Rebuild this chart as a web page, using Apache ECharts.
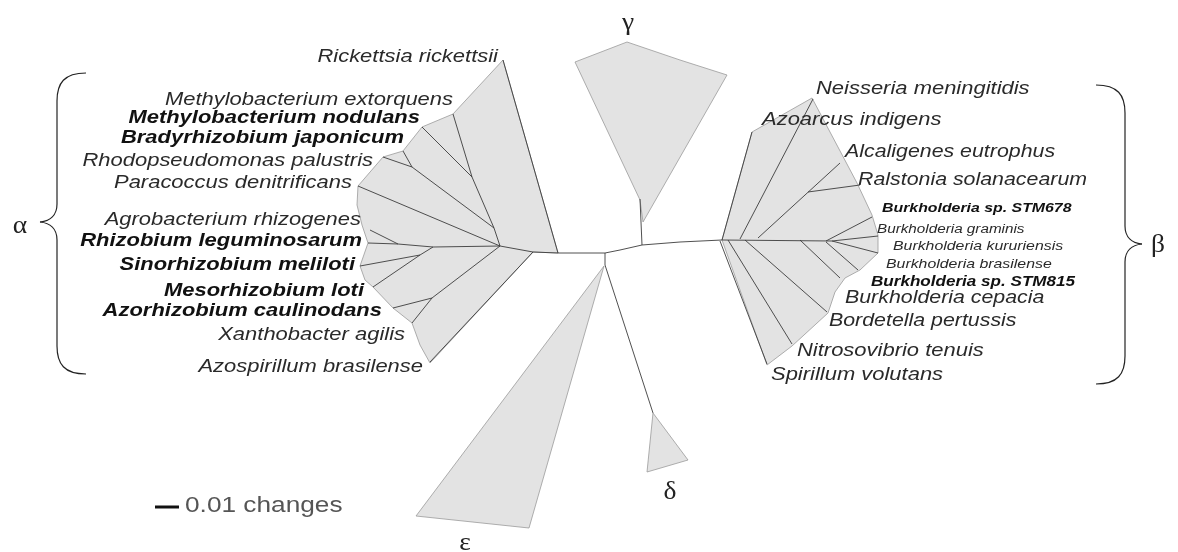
<!DOCTYPE html>
<html><head><meta charset="utf-8">
<script src="https://cdn.jsdelivr.net/npm/echarts@6.0.0/dist/echarts.min.js"></script>
<style>html,body{margin:0;padding:0;background:#fff}#c{width:1178px;height:552px}</style>
</head><body><div id="c"></div>
<script>
// ---------- DATA (figure units = pixels of the original 1178x552 figure) ----------
const leftLabels = ['Rickettsia rickettsii','Methylobacterium extorquens','Methylobacterium nodulans','Bradyrhizobium japonicum','Rhodopseudomonas palustris','Paracoccus denitrificans','Agrobacterium rhizogenes','Rhizobium leguminosarum','Sinorhizobium meliloti','Mesorhizobium loti','Azorhizobium caulinodans','Xanthobacter agilis','Azospirillum brasilense'];
const leftBold = [0,0,1,1,0,0,0,1,1,1,1,0,0];
const leftX = [498,453,420,404,373,352,361,362,355,364,382,405,423];
const leftY = [57,100,118,138,161,183,220,241,265,291,311,335,367];

const rightLabels = ['Neisseria meningitidis','Azoarcus indigens','Alcaligenes eutrophus','Ralstonia solanacearum','Burkholderia sp. STM678','Burkholderia graminis','Burkholderia kururiensis','Burkholderia brasilense','Burkholderia sp. STM815','Burkholderia cepacia','Bordetella pertussis','Nitrosovibrio tenuis','Spirillum volutans'];
const rightBold = [0,0,0,0,1,0,0,0,1,0,0,0,0];
const rightSize = [18,18,17.5,17.5,13,12.5,13,13,14,17.5,17.5,18,18];
const rightX = [816,762,845,858,882,877,893,886,871,845,829,797,771];
const rightY = [89,120,152,180,208,230,246,264,282,298,321,351,375];

const groupLetters = ['α','β','γ','δ','ε'];
const groupX = [20,1158,628,670,465];
const groupY = [226,245,23,492,543];

// backbone + branches (polylines of tree nodes)
const branches = [
  [[533,252],[558,253],[605,253],[620,250],[642,245],[680,242],[722,240]],
  [[558,253],[503,60]],
  [[533,252],[430,362]],
  [[533,252],[500,246]],
  [[500,246],[494,228],[472,177],[453,114]],
  [[472,177],[422,127]],
  [[494,228],[412,167]],
  [[412,167],[403,151]],
  [[412,167],[383,157]],
  [[500,246],[358,186]],
  [[500,246],[433,247],[398,244],[368,243]],
  [[398,244],[370,230]],
  [[433,247],[420,255]],
  [[420,255],[360,266]],
  [[420,255],[373,287]],
  [[500,246],[432,298]],
  [[432,298],[393,308]],
  [[432,298],[412,323]],
  [[642,245],[640,199]],
  [[605,253],[605,265],[653,413]],
  [[722,240],[752,132]],
  [[740,239],[813,99]],
  [[758,238],[840,163]],
  [[808,192],[860,185]],
  [[722,240],[832,241]],
  [[826,241],[872,217]],
  [[832,241],[878,236]],
  [[832,241],[878,253]],
  [[826,242],[858,270]],
  [[800,240],[840,278]],
  [[745,240],[827,312]],
  [[728,240],[792,344]],
  [[720,241],[767,364]]
];

const cladeNames = ['alpha','beta','gamma','epsilon','delta'];
const cladeShapes = [
  [[503,60],[453,114],[422,127],[403,151],[383,157],[358,186],[357,205],[362,225],[368,243],[360,266],[365,280],[373,287],[393,308],[412,323],[420,345],[430,363],[533,252],[558,253]],
  [[722,240],[752,132],[812,98],[857,183],[872,215],[878,235],[878,253],[860,270],[845,278],[835,292],[828,313],[792,346],[767,365]],
  [[575,62],[627,42],[680,60],[727,75],[643,222],[640,200]],
  [[604,266],[416,516],[529,528]],
  [[653,413],[688,460],[647,472]]
];

const scaleLabel = '0.01 changes';

// ---------- CHART ----------
const SX = 1.22;
const FAM = '"Liberation Sans", Arial, Helvetica, sans-serif';
function txt(p, text, font, fill, align, sx){
  return {type:'text', x:p[0], y:p[1], scaleX:sx,
    style:{text:text, font:font, fill:fill, align:align, verticalAlign:'middle', textAlign:align, textVerticalAlign:'middle'}};
}

const chart = echarts.init(document.getElementById('c'), null, {renderer:'canvas'});

const braces = [
  {x:57, dir:-1, top:73, bot:374, tip:222},
  {x:1125, dir:1, top:85, bot:384, tip:244}
];

const option = {
  animation:false,
  backgroundColor:'#ffffff',
  grid:{left:0,right:0,top:0,bottom:0},
  xAxis:{type:'value',min:0,max:1178,show:false},
  yAxis:{type:'value',min:0,max:552,inverse:true,show:false},
  series:[
    { // clade wedges
      type:'custom', coordinateSystem:'cartesian2d', silent:true, z:1,
      data: cladeShapes.map(s=>[s[0][0], s[0][1]]),
      renderItem:(params, api)=>{
        const pts = cladeShapes[params.dataIndex].map(p=>api.coord(p));
        return {type:'polygon', shape:{points:pts}, style:{fill:'#e3e3e3', stroke:'#9a9a9a', lineWidth:0.8}};
      }
    },
    { // branches
      type:'custom', coordinateSystem:'cartesian2d', silent:true, z:2,
      data: branches.map(b=>[b[0][0], b[0][1]]),
      renderItem:(params, api)=>{
        const pts = branches[params.dataIndex].map(p=>api.coord(p));
        return {type:'polyline', shape:{points:pts}, style:{stroke:'#3c3c3c', lineWidth:0.9, fill:null}};
      }
    },
    { // left labels
      type:'custom', coordinateSystem:'cartesian2d', silent:true, z:3,
      data: leftX.map((x,i)=>[x, leftY[i]]),
      renderItem:(params, api)=>{
        const i = params.dataIndex;
        const p = api.coord([api.value(0), api.value(1)]);
        const font = 'italic ' + (leftBold[i] ? 'bold ' : '') + '18px ' + FAM;
        return txt(p, leftLabels[i], font, leftBold[i] ? '#111' : '#2a2a2a', 'right', SX);
      }
    },
    { // right labels
      type:'custom', coordinateSystem:'cartesian2d', silent:true, z:3,
      data: rightX.map((x,i)=>[x, rightY[i]]),
      renderItem:(params, api)=>{
        const i = params.dataIndex;
        const p = api.coord([api.value(0), api.value(1)]);
        const font = 'italic ' + (rightBold[i] ? 'bold ' : '') + rightSize[i] + 'px ' + FAM;
        return txt(p, rightLabels[i], font, rightBold[i] ? '#111' : '#2a2a2a', 'left', SX);
      }
    },
    { // group letters
      type:'custom', coordinateSystem:'cartesian2d', silent:true, z:3,
      data: groupX.map((x,i)=>[x, groupY[i]]),
      renderItem:(params, api)=>{
        const i = params.dataIndex;
        const p = api.coord([api.value(0), api.value(1)]);
        return txt(p, groupLetters[i], '25px "Liberation Serif", "DejaVu Serif", serif', '#222', 'center', 1.1);
      }
    },
    { // braces
      type:'custom', coordinateSystem:'cartesian2d', silent:true, z:3,
      data: braces.map(b=>[b.x, b.tip]),
      renderItem:(params, api)=>{
        const b = braces[params.dataIndex];
        const d = b.dir, x = b.x, e = x - d*29, t = x + d*17;
        const C = (a,c1,c2,z)=>{const A=api.coord(a),P=api.coord(c1),Q=api.coord(c2),Z=api.coord(z);
          return {type:'bezierCurve', shape:{x1:A[0],y1:A[1],cpx1:P[0],cpy1:P[1],cpx2:Q[0],cpy2:Q[1],x2:Z[0],y2:Z[1]}, style:{stroke:'#222',lineWidth:1.2,fill:null}};};
        const L = (a,z)=>{const A=api.coord(a),Z=api.coord(z);
          return {type:'line', shape:{x1:A[0],y1:A[1],x2:Z[0],y2:Z[1]}, style:{stroke:'#222',lineWidth:1.2}};};
        return {type:'group', children:[
          C([e,b.top],[x+ (e-x)*0.25,b.top],[x,b.top+10],[x,b.top+28]),
          L([x,b.top+28],[x,b.tip-18]),
          C([x,b.tip-18],[x,b.tip-7],[x+(t-x)*0.4,b.tip-1],[t,b.tip]),
          C([t,b.tip],[x+(t-x)*0.4,b.tip+1],[x,b.tip+7],[x,b.tip+18]),
          L([x,b.tip+18],[x,b.bot-28]),
          C([x,b.bot-28],[x,b.bot-10],[x+(e-x)*0.25,b.bot],[e,b.bot])
        ]};
      }
    },
    { // scale bar
      type:'custom', coordinateSystem:'cartesian2d', silent:true, z:3,
      data:[[155,507]],
      renderItem:(params, api)=>{
        const a = api.coord([155,507]), z = api.coord([179,507]), t = api.coord([185,506]);
        return {type:'group', children:[
          {type:'line', shape:{x1:a[0],y1:a[1],x2:z[0],y2:z[1]}, style:{stroke:'#111',lineWidth:3}},
          txt(t, scaleLabel, '21.5px ' + FAM, '#555', 'left', SX)
        ]};
      }
    }
  ]
};
chart.setOption(option);
</script>
</body></html>
